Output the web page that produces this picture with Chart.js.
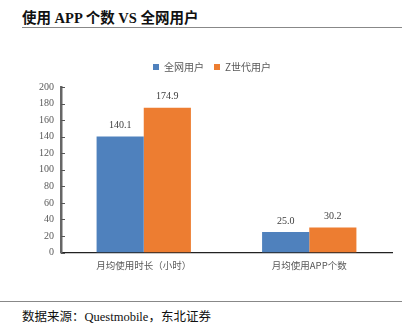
<!DOCTYPE html>
<html>
<head>
<meta charset="utf-8">
<script src="https://cdn.jsdelivr.net/npm/chart.js@4/dist/chart.umd.min.js"></script>
<style>
  body { margin: 0; width: 407px; height: 330px; background: #fff; position: relative; overflow: hidden; }
  #title { position: absolute; left: 22px; top: 6px; font: bold 14.5px "Liberation Serif", "Noto Sans CJK SC", serif; color: #111; white-space: nowrap; }
  #topline { position: absolute; left: 22px; top: 27px; width: 380px; height: 0; border-top: 1.5px solid #888; }
  #bottomline { position: absolute; left: 0px; top: 301px; width: 402px; height: 0; border-top: 1.5px solid #888; }
  #source { position: absolute; left: 22px; top: 306px; font: 12.5px "Liberation Serif", "Noto Sans CJK SC", serif; color: #111; white-space: nowrap; }
  #wrap { position: absolute; left: 0; top: 52px; width: 407px; height: 226px; }
</style>
</head>
<body>
<div id="title">使用 APP 个数 VS 全网用户</div>
<div id="topline"></div>
<div id="wrap"><canvas id="chart"></canvas></div>
<div id="bottomline"></div>
<div id="source">数据来源：Questmobile，东北证券</div>
<script>
const categories = ['月均使用时长（小时）', '月均使用APP个数'];
const allUsers = [140.1, 25.0];
const genZ = [174.9, 30.2];
const yTicks = [0, 20, 40, 60, 80, 100, 120, 140, 160, 180, 200];

// extra space under the legend
const legendGap = {
  id: 'legendGap',
  beforeInit(chart) {
    const fit = chart.legend.fit;
    chart.legend.fit = function () {
      fit.bind(chart.legend)();
      this.height += 5;
    };
  }
};

// small ticks drawn inward from the y axis, plus value labels above bars
const extras = {
  id: 'extras',
  afterDatasetsDraw(chart) {
    const ctx = chart.ctx;
    const y = chart.scales.y;
    ctx.save();
    ctx.strokeStyle = '#555';
    ctx.lineWidth = 1;
    yTicks.forEach(v => {
      const py = Math.round(y.getPixelForValue(v)) + 0.5;
      ctx.beginPath();
      ctx.moveTo(y.right, py);
      ctx.lineTo(y.right + 4, py);
      ctx.stroke();
    });
    ctx.font = '10px "Liberation Serif", serif';
    ctx.fillStyle = '#404040';
    ctx.textAlign = 'center';
    ctx.textBaseline = 'bottom';
    chart.data.datasets.forEach((ds, i) => {
      chart.getDatasetMeta(i).data.forEach((bar, j) => {
        ctx.fillText(ds.data[j].toFixed(1), bar.x, bar.y - 6);
      });
    });
    ctx.restore();
  }
};

new Chart(document.getElementById('chart'), {
  type: 'bar',
  data: {
    labels: categories,
    datasets: [
      { label: '全网用户', data: allUsers, backgroundColor: '#4F81BD' },
      { label: 'Z世代用户', data: genZ, backgroundColor: '#ED7D31' }
    ]
  },
  options: {
    responsive: true,
    maintainAspectRatio: false,
    animation: false,
    layout: { padding: { left: 32, right: 15, top: 0, bottom: 0 } },
    datasets: { bar: { categoryPercentage: 0.57, barPercentage: 1 } },
    plugins: {
      legend: {
        position: 'top',
        labels: {
          boxWidth: 6, boxHeight: 6, padding: 10,
          color: '#595959',
          font: { size: 10, family: '"Noto Sans CJK SC", sans-serif' }
        }
      },
      tooltip: { enabled: false }
    },
    scales: {
      x: {
        grid: { display: false, drawTicks: false },
        border: { color: '#222', width: 1.2 },
        ticks: { color: '#595959', padding: 7, font: { size: 9.5, family: '"Noto Sans CJK SC", sans-serif' } }
      },
      y: {
        min: 0, max: 200,
        afterBuildTicks: s => { s.ticks = yTicks.map(v => ({ value: v })); },
        grid: { display: false, drawTicks: false },
        border: { color: '#666', width: 2.5 },
        ticks: { color: '#595959', padding: 7, font: { size: 10, family: '"Liberation Serif", serif' } }
      }
    }
  },
  plugins: [legendGap, extras]
});
</script>
</body>
</html>
